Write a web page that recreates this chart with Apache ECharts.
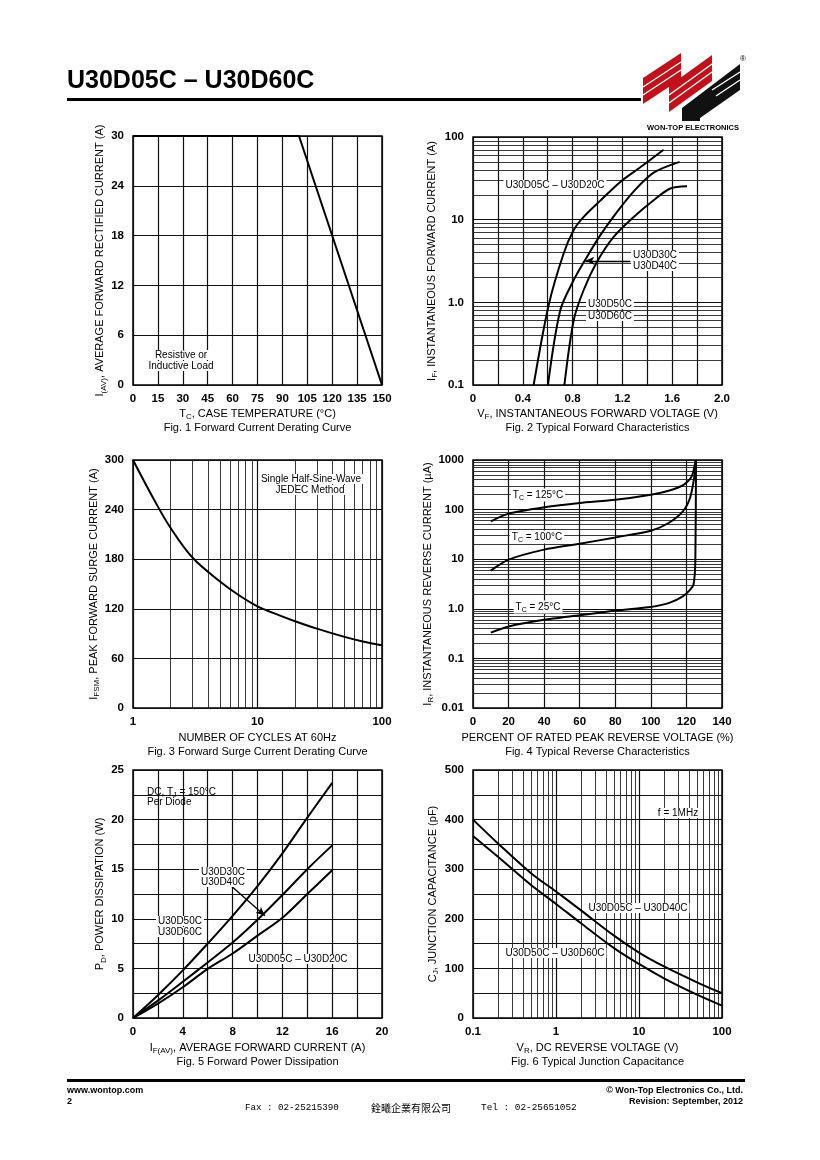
<!DOCTYPE html>
<html><head><meta charset="utf-8">
<script src="https://cdn.jsdelivr.net/npm/echarts@6/dist/echarts.min.js"></script>
<style>html,body{margin:0;padding:0;background:#fff}#c{width:820px;height:1160px}</style>
</head><body><div id="c"></div>
<script>
// ---------- DATA ----------
// Fig.1 Forward current derating
const fig1Temp = [0, 100, 150];
const fig1Current = [30, 30, 0];
// Fig.2 Typical forward characteristics (V, A)
const fig2V_05_20 = [0.487, 0.608, 0.728, 0.809, 0.889, 1.023, 1.183, 1.344, 1.531];
const fig2I_05_20 = [0.1, 0.93, 3.9, 7.5, 10.8, 17, 28.6, 43, 70];
const fig2V_30_40 = [0.602, 0.701, 0.809, 0.916, 1.023, 1.157, 1.291, 1.451, 1.66];
const fig2I_30_40 = [0.1, 0.8, 1.86, 3.56, 6.5, 12.4, 22, 37, 50];
const fig2V_50_60 = [0.734, 0.809, 0.889, 0.996, 1.13, 1.291, 1.451, 1.585, 1.719];
const fig2I_50_60 = [0.1, 0.61, 1.41, 3.09, 6.2, 10.8, 17.2, 23.8, 25.3];
// Fig.3 Forward surge current derating
const fig3Cycles = [1, 1.5, 2, 3, 5, 7, 10, 15, 20, 30, 50, 70, 100];
const fig3Current = [300, 250, 218, 182, 153, 137, 123, 112, 105, 96, 86, 80.5, 76];
// Fig.4 Typical reverse characteristics (% , uA)
const fig4Pct_25 = [10, 20, 40, 60, 80, 100, 110, 118, 122, 124, 125, 125.4];
const fig4Ir_25 = [0.33, 0.44, 0.6, 0.74, 0.92, 1.09, 1.3, 1.78, 2.4, 3.1, 9, 1000];
const fig4Pct_100 = [10, 20, 40, 60, 80, 100, 110, 118, 122, 124.3, 125.3];
const fig4Ir_100 = [5.9, 9.8, 15.6, 20.5, 27.5, 37.6, 53.7, 92, 171, 433, 1000];
const fig4Pct_125 = [10, 20, 40, 60, 80, 100, 110, 118.4, 123, 125.2];
const fig4Ir_125 = [58, 83, 111, 136, 158, 200, 240, 316, 468, 1000];
// Fig.5 Forward power dissipation
const fig5If = [0, 2, 4, 6, 8, 10, 12, 14, 16];
const fig5P_50_60 = [0, 2.3, 4.8, 7.5, 10.3, 13.3, 16.6, 20.2, 23.7];
const fig5P_30_40 = [0, 1.75, 3.65, 5.6, 7.6, 9.9, 12.4, 15.0, 17.4];
const fig5P_05_20 = [0, 1.45, 3.1, 4.95, 6.5, 8.3, 10.1, 12.5, 14.9];
// Fig.6 Typical junction capacitance
const fig6Vr = [0.1, 0.2, 0.5, 1, 2, 5, 10, 20, 50, 100];
const fig6C_05_40 = [400, 352, 292, 255, 217, 166, 132, 104, 72, 50];
const fig6C_50_60 = [367, 325, 268, 230, 191, 141, 109, 80, 47, 25];
// Arrow annotations (data coords)
const fig2Arrow = [[1.264, 3.18], [0.902, 3.18]];
const fig5Arrow = [[7.8, 13.4], [10.6, 10.3]];

// ---------- HELPERS ----------
const FONT = "'Liberation Sans', Arial, Helvetica, sans-serif";
const zip = (a, b) => a.map((v, i) => [v, b[i]]);
const r6 = v => Number(Number(v).toPrecision(6));
function logMinor(lo, hi) {
  const out = [];
  for (let d = lo; d < hi * 0.999; d *= 10) for (let k = 2; k <= 9; k++) out.push(r6(d * k));
  return out;
}
function rich(size) {
  return {
    n: { fontSize: size, lineHeight: size + 3, fontFamily: FONT, color: '#000' },
    s: { fontSize: Math.round(size * 0.72), fontFamily: FONT, color: '#000', verticalAlign: 'bottom' }
  };
}
const boxes = [[133, 136, 249, 249], [473, 137, 249, 248], [133, 460, 249, 248], [473, 460, 249, 248], [133, 770, 249, 248], [473, 770, 249, 248]];
const gridLine = { show: true, lineStyle: { color: '#111', width: 1.2 } };
function axisBase(gi, extra) {
  return Object.assign({
    gridIndex: gi,
    axisLine: { show: false }, axisTick: { show: false },
    splitLine: gridLine,
    axisLabel: { color: '#000', fontFamily: FONT, fontSize: 11.5, fontWeight: 'bold' },
    nameLocation: 'middle',
    nameTextStyle: { rich: rich(11) }
  }, extra);
}
function xA(gi, extra, gap) { const a = axisBase(gi, extra); a.nameGap = gap; a.axisLabel.margin = 8; return a; }
function yA(gi, extra, gap) { const a = axisBase(gi, extra); a.nameGap = gap; a.axisLabel.margin = 9; return a; }
function minorMark(axis, vals) {
  return {
    silent: true, symbol: ['none', 'none'], animation: false,
    label: { show: false },
    lineStyle: { type: 'solid', color: '#222', width: 0.9 },
    data: vals.map(v => ({ [axis]: v }))
  };
}
function arrowMark(pts) {
  return {
    silent: true, symbol: ['none', 'arrow'], symbolSize: [6, 9], animation: false,
    label: { show: false },
    lineStyle: { type: 'solid', color: '#000', width: 1.3 },
    data: [[{ coord: pts[0] }, { coord: pts[1] }]]
  };
}
function curve(gi, data, extra) {
  return Object.assign({
    type: 'line', xAxisIndex: gi, yAxisIndex: gi, data: data,
    showSymbol: false, smooth: 0.35, animation: false, silent: true,
    lineStyle: { color: '#000', width: 2 }, z: 5
  }, extra || {});
}
function label(text, x, y, opts) {
  return {
    type: 'text', x: x, y: y, z: 50,
    style: Object.assign({
      text: text, fill: '#000', fontFamily: FONT, fontSize: 10,
      align: 'center', verticalAlign: 'middle',
      backgroundColor: '#fff', padding: [0, 2], rich: rich(10)
    }, opts || {})
  };
}
const fmtLog = v => { v = r6(v); return v === 1 ? '1.0' : String(v); };
const RED = '#c1121c';

// ---------- OPTION ----------
const option = {
  backgroundColor: '#fff',
  animation: false,
  grid: boxes.map(b => ({ left: b[0], top: b[1], width: b[2], height: b[3], show: true, borderColor: '#000', borderWidth: 1.5, backgroundColor: 'transparent' })),
  xAxis: [
    xA(0, { type: 'value', min: 0, max: 150, interval: 15,
      name: '{n|T}{s|C}{n|, CASE TEMPERATURE (°C)}\n{n|Fig. 1 Forward Current Derating Curve}' }, 22),
    xA(1, { type: 'value', min: 0, max: 2, interval: 0.2,
      axisLabel: { color: '#000', fontFamily: FONT, fontSize: 11.5, fontWeight: 'bold', formatter: v => { const k = Math.round(v * 10); return k % 4 === 0 ? (k === 0 ? '0' : (k / 10).toFixed(1)) : ''; } },
      name: '{n|V}{s|F}{n|, INSTANTANEOUS FORWARD VOLTAGE (V)}\n{n|Fig. 2 Typical Forward Characteristics}' }, 22),
    xA(2, { type: 'log', logBase: 10, min: 1, max: 100,
      axisLabel: { color: '#000', fontFamily: FONT, fontSize: 11.5, fontWeight: 'bold', formatter: v => String(r6(v)) },
      name: '{n|NUMBER OF CYCLES AT 60Hz}\n{n|Fig. 3 Forward Surge Current Derating Curve}' }, 23),
    xA(3, { type: 'value', min: 0, max: 140, interval: 20,
      name: '{n|PERCENT OF RATED PEAK REVERSE VOLTAGE (%)}\n{n|Fig. 4 Typical Reverse Characteristics}' }, 23),
    xA(4, { type: 'value', min: 0, max: 20, interval: 2,
      axisLabel: { color: '#000', fontFamily: FONT, fontSize: 11.5, fontWeight: 'bold', formatter: v => (Math.round(v) % 4 === 0 ? String(Math.round(v)) : '') },
      name: '{n|I}{s|F(AV)}{n|, AVERAGE FORWARD CURRENT (A)}\n{n|Fig. 5 Forward Power Dissipation}' }, 23),
    xA(5, { type: 'log', logBase: 10, min: 0.1, max: 100,
      axisLabel: { color: '#000', fontFamily: FONT, fontSize: 11.5, fontWeight: 'bold', formatter: v => String(r6(v)) },
      name: '{n|V}{s|R}{n|, DC REVERSE VOLTAGE (V)}\n{n|Fig. 6 Typical Junction Capacitance}' }, 23)
  ],
  yAxis: [
    yA(0, { type: 'value', min: 0, max: 30, interval: 6,
      name: '{n|I}{s|(AV)}{n|, AVERAGE FORWARD RECTIFIED CURRENT (A)}' }, 21),
    yA(1, { type: 'log', logBase: 10, min: 0.1, max: 100,
      axisLabel: { color: '#000', fontFamily: FONT, fontSize: 11.5, fontWeight: 'bold', formatter: fmtLog },
      name: '{n|I}{s|F}{n|, INSTANTANEOUS FORWARD CURRENT (A)}' }, 34),
    yA(2, { type: 'value', min: 0, max: 300, interval: 60,
      name: '{n|I}{s|FSM}{n|, PEAK FORWARD SURGE CURRENT (A)}' }, 25),
    yA(3, { type: 'log', logBase: 10, min: 0.01, max: 1000,
      axisLabel: { color: '#000', fontFamily: FONT, fontSize: 11.5, fontWeight: 'bold', formatter: fmtLog },
      name: '{n|I}{s|R}{n|, INSTANTANEOUS REVERSE CURRENT (µA)}' }, 36),
    yA(4, { type: 'value', min: 0, max: 25, interval: 2.5,
      axisLabel: { color: '#000', fontFamily: FONT, fontSize: 11.5, fontWeight: 'bold', formatter: v => (Math.abs(v / 5 - Math.round(v / 5)) < 1e-6 ? String(Math.round(v)) : '') },
      name: '{n|P}{s|D}{n|, POWER DISSIPATION (W)}' }, 21),
    yA(5, { type: 'value', min: 0, max: 500, interval: 50,
      axisLabel: { color: '#000', fontFamily: FONT, fontSize: 11.5, fontWeight: 'bold', formatter: v => (Math.round(v) % 100 === 0 ? String(Math.round(v)) : '') },
      name: '{n|C}{s|J}{n|, JUNCTION CAPACITANCE (pF)}' }, 33)
  ],
  series: [
    curve(0, zip(fig1Temp, fig1Current), { smooth: false }),
    curve(1, zip(fig2V_05_20, fig2I_05_20), { smooth: 0.3, markLine: minorMark('yAxis', logMinor(0.1, 100)) }),
    curve(1, zip(fig2V_30_40, fig2I_30_40), { smooth: 0.3, markLine: arrowMark(fig2Arrow) }),
    curve(1, zip(fig2V_50_60, fig2I_50_60), { smooth: 0.3 }),
    curve(2, zip(fig3Cycles, fig3Current), { markLine: minorMark('xAxis', logMinor(1, 100)) }),
    curve(3, zip(fig4Pct_125, fig4Ir_125), { smooth: 0.25, markLine: minorMark('yAxis', logMinor(0.01, 1000)) }),
    curve(3, zip(fig4Pct_100, fig4Ir_100), { smooth: 0.25 }),
    curve(3, zip(fig4Pct_25, fig4Ir_25), { smooth: 0.2 }),
    curve(4, zip(fig5If, fig5P_50_60)),
    curve(4, zip(fig5If, fig5P_30_40), { markLine: arrowMark(fig5Arrow) }),
    curve(4, zip(fig5If, fig5P_05_20)),
    curve(5, zip(fig6Vr, fig6C_05_40), { markLine: minorMark('xAxis', logMinor(0.1, 100)) }),
    curve(5, zip(fig6Vr, fig6C_50_60))
  ],
  graphic: [
    // header
    { type: 'text', x: 67, y: 94, style: { text: 'U30D05C – U30D60C', fill: '#000', fontFamily: FONT, fontWeight: 'bold', fontSize: 25, verticalAlign: 'bottom' } },
    { type: 'rect', shape: { x: 67, y: 98, width: 574, height: 3 }, style: { fill: '#000' } },
    // logo
    { type: 'polygon', shape: { points: [[643, 104], [643, 78], [681, 53], [681, 79]] }, style: { fill: RED } },
    { type: 'polygon', shape: { points: [[669, 112], [669, 86], [712, 55], [712, 81]] }, style: { fill: RED } },
    { type: 'polygon', shape: { points: [[682, 121], [682, 108], [740, 64], [740, 90], [700, 118], [700, 121]] }, style: { fill: '#111' } },
    { type: 'polyline', shape: { points: [[643, 87], [681, 62]] }, style: { stroke: '#fff', lineWidth: 1.3 } },
    { type: 'polyline', shape: { points: [[643, 95], [681, 70]] }, style: { stroke: '#fff', lineWidth: 1.3 } },
    { type: 'polyline', shape: { points: [[669, 95], [712, 64]] }, style: { stroke: '#fff', lineWidth: 1.3 } },
    { type: 'polyline', shape: { points: [[669, 103], [712, 72]] }, style: { stroke: '#fff', lineWidth: 1.3 } },
    { type: 'polyline', shape: { points: [[712, 90], [740, 72]] }, style: { stroke: '#fff', lineWidth: 1.4 } },
    { type: 'polyline', shape: { points: [[716, 96], [740, 80]] }, style: { stroke: '#fff', lineWidth: 1.4 } },
    { type: 'text', x: 743, y: 59, style: { text: '®', fill: '#000', fontFamily: FONT, fontSize: 8, align: 'center', verticalAlign: 'middle' } },
    { type: 'text', x: 693, y: 128, style: { text: 'WON-TOP ELECTRONICS', fill: '#000', fontFamily: FONT, fontWeight: 'bold', fontSize: 7.5, align: 'center', verticalAlign: 'middle' } },
    // chart annotations
    label('Resistive or', 181, 355),
    label('Inductive Load', 181, 366),
    label('U30D05C – U30D20C', 555, 185),
    label('U30D30C', 655, 255),
    label('U30D40C', 655, 266),
    label('U30D50C', 610, 304),
    label('U30D60C', 610, 316),
    label('Single Half-Sine-Wave', 311, 479),
    label('JEDEC Method', 310, 490),
    label('{n|T}{s|C}{n| = 125°C}', 538, 495),
    label('{n|T}{s|C}{n| = 100°C}', 537, 537),
    label('{n|T}{s|C}{n| = 25°C}', 538, 607),
    label('{n|DC, T}{s|J}{n| = 150°C}', 145, 792, { align: 'left', backgroundColor: 'transparent' }),
    label('Per Diode', 145, 802, { align: 'left', backgroundColor: 'transparent' }),
    label('U30D30C', 223, 872),
    label('U30D40C', 223, 882),
    label('U30D50C', 180, 921),
    label('U30D60C', 180, 932),
    label('U30D05C – U30D20C', 298, 959),
    label('f = 1MHz', 678, 813),
    label('U30D05C – U30D40C', 638, 908),
    label('U30D50C – U30D60C', 555, 953),
    // footer
    { type: 'rect', shape: { x: 67, y: 1079, width: 678, height: 3 }, style: { fill: '#000' } },
    { type: 'text', x: 67, y: 1091, style: { text: 'www.wontop.com', fill: '#000', fontFamily: FONT, fontWeight: 'bold', fontSize: 9, verticalAlign: 'middle' } },
    { type: 'text', x: 67, y: 1102, style: { text: '2', fill: '#000', fontFamily: FONT, fontWeight: 'bold', fontSize: 9, verticalAlign: 'middle' } },
    { type: 'text', x: 743, y: 1091, style: { text: '© Won-Top Electronics Co., Ltd.', fill: '#000', fontFamily: FONT, fontWeight: 'bold', fontSize: 9, align: 'right', verticalAlign: 'middle' } },
    { type: 'text', x: 743, y: 1102, style: { text: 'Revision: September, 2012', fill: '#000', fontFamily: FONT, fontWeight: 'bold', fontSize: 9, align: 'right', verticalAlign: 'middle' } },
    { type: 'text', x: 245, y: 1108, style: { text: 'Fax : 02-25215390', fill: '#000', fontFamily: "'Liberation Mono', monospace", fontSize: 9.2, verticalAlign: 'middle' } },
    { type: 'text', x: 411, y: 1108, style: { text: '銓曦企業有限公司', fill: '#000', fontFamily: "'Noto Sans CJK TC', sans-serif", fontSize: 10, align: 'center', verticalAlign: 'middle' } },
    { type: 'text', x: 481, y: 1108, style: { text: 'Tel : 02-25651052', fill: '#000', fontFamily: "'Liberation Mono', monospace", fontSize: 9.4, verticalAlign: 'middle' } }
  ]
};
const chart = echarts.init(document.getElementById('c'), null, { renderer: 'canvas', width: 820, height: 1160 });
chart.setOption(option);
</script>
</body></html>
